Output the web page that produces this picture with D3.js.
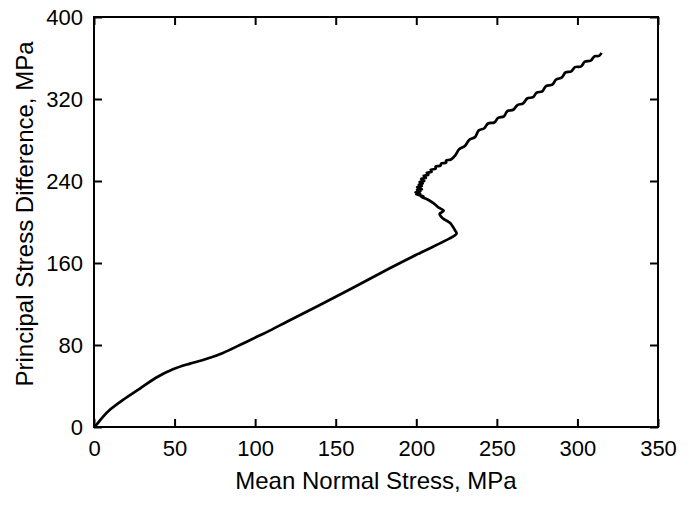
<!DOCTYPE html>
<html>
<head>
<meta charset="utf-8">
<script src="https://cdn.jsdelivr.net/npm/d3@7"></script>
<style>
  body { margin: 0; background: #fff; }
  svg { display: block; font-family: "Liberation Sans", Arial, sans-serif; }
</style>
</head>
<body>
<div id="chart"></div>
<script>
// mean normal stress (x) and principal stress difference (y), MPa
let meanStress = [
  0, 1.7, 5, 10, 18, 28.5, 39, 49, 59.5, 70, 80, 90.5, 101, 109, 120, 150, 180, 200, 224,
  225, 224, 221, 218, 215.5, 214.5, 217, 214, 211, 207,
  203, 204.5, 200, 202.5, 199.5, 202.5, 200.5, 203.5, 200.5, 203.5, 201.5, 204, 202, 205, 203,
  206, 204.5, 207.5, 206.5, 209.5, 209, 212, 212, 215, 215.5, 218.5, 218.5, 221.5,
  224.2, 226.6, 230.3, 232.8, 236.5, 238.7, 242.2, 244.5, 248.4, 250.8, 254.4, 256.5, 260.2,
  262.6, 266.3, 268.8, 272.5, 274.7, 278.2, 280.5, 284.4, 286.8, 290.4, 292.6, 296.2, 298.5,
  302.3, 304.6, 308.2, 310.7, 313.4, 315
]
let stressDiff = [
  0, 2.5, 9, 17, 26.5, 37.5, 48.5, 56.3, 61.8, 66.5, 72.3, 80, 88, 94, 103, 127, 152, 168, 187,
  189, 192, 199, 202, 205, 208, 211, 214, 218, 222,
  224.5, 225, 227, 227.5, 229, 230, 231.5, 232, 234, 235, 236.5, 237.5, 239, 240, 242,
  243, 245, 246, 248, 249, 251, 252, 254, 255, 257, 258, 260, 261,
  265, 270.9, 274.3, 280, 282.9, 289.2, 291.5, 296.1, 297.1, 301.5, 303.1, 308.1, 309.5,
  313.9, 315.8, 320.5, 321.9, 326.2, 327.5, 332.6, 334.1, 339, 341.1, 345.9, 347, 351.1,
  351.8, 356.4, 357.5, 361.7, 362.1, 365
]
let xTicks = [0, 50, 100, 150, 200, 250, 300, 350]
let yTicks = [0, 80, 160, 240, 320, 400]

let width = 698
let height = 506
let margin = { top: 17, right: 40, bottom: 79, left: 94 }
let innerWidth = width - margin.left - margin.right
let innerHeight = height - margin.top - margin.bottom

let data = meanStress.map(function (d, i) { return [d, stressDiff[i]] })

let xScale = d3.scaleLinear().domain([0, 350]).range([0, innerWidth])
let yScale = d3.scaleLinear().domain([0, 400]).range([innerHeight, 0])

let svg = d3.select('#chart').append('svg')
  .attr('width', width)
  .attr('height', height)

let g = svg.append('g')
  .attr('transform', 'translate(' + margin.left + ',' + margin.top + ')')

function styleAxis (sel, hideText) {
  sel.attr('font-family', null).attr('font-size', null)
  sel.select('.domain').remove()
  sel.selectAll('line').attr('stroke', '#000').attr('stroke-width', 2)
  sel.selectAll('text').attr('fill', '#000').style('font-size', '22px')
  if (hideText) sel.selectAll('text').remove()
}

g.append('g')
  .attr('transform', 'translate(0,' + innerHeight + ')')
  .call(d3.axisBottom(xScale).tickValues(xTicks).tickSize(-8).tickPadding(13))
  .call(styleAxis, false)

g.append('g')
  .call(d3.axisTop(xScale).tickValues(xTicks).tickSize(-8))
  .call(styleAxis, true)

g.append('g')
  .call(d3.axisLeft(yScale).tickValues(yTicks).tickSize(-8).tickPadding(11))
  .call(styleAxis, false)

g.append('g')
  .attr('transform', 'translate(' + innerWidth + ',0)')
  .call(d3.axisRight(yScale).tickValues(yTicks).tickSize(-8))
  .call(styleAxis, true)

g.append('rect')
  .attr('width', innerWidth)
  .attr('height', innerHeight)
  .attr('fill', 'none')
  .attr('stroke', '#000')
  .attr('stroke-width', 2)

let line = d3.line()
  .curve(d3.curveCatmullRom.alpha(0.5))
  .x(function (d) { return xScale(d[0]) })
  .y(function (d) { return yScale(d[1]) })

g.append('path')
  .datum(data)
  .attr('d', line)
  .attr('fill', 'none')
  .attr('stroke', '#000')
  .attr('stroke-width', 2.7)
  .attr('stroke-linejoin', 'round')

svg.append('text')
  .attr('x', margin.left + innerWidth / 2)
  .attr('y', 489)
  .attr('text-anchor', 'middle')
  .style('font-size', '24px')
  .text('Mean Normal Stress, MPa')

svg.append('text')
  .attr('transform', 'translate(33,214) rotate(-90)')
  .attr('text-anchor', 'middle')
  .style('font-size', '24px')
  .text('Principal Stress Difference, MPa')
</script>
</body>
</html>
